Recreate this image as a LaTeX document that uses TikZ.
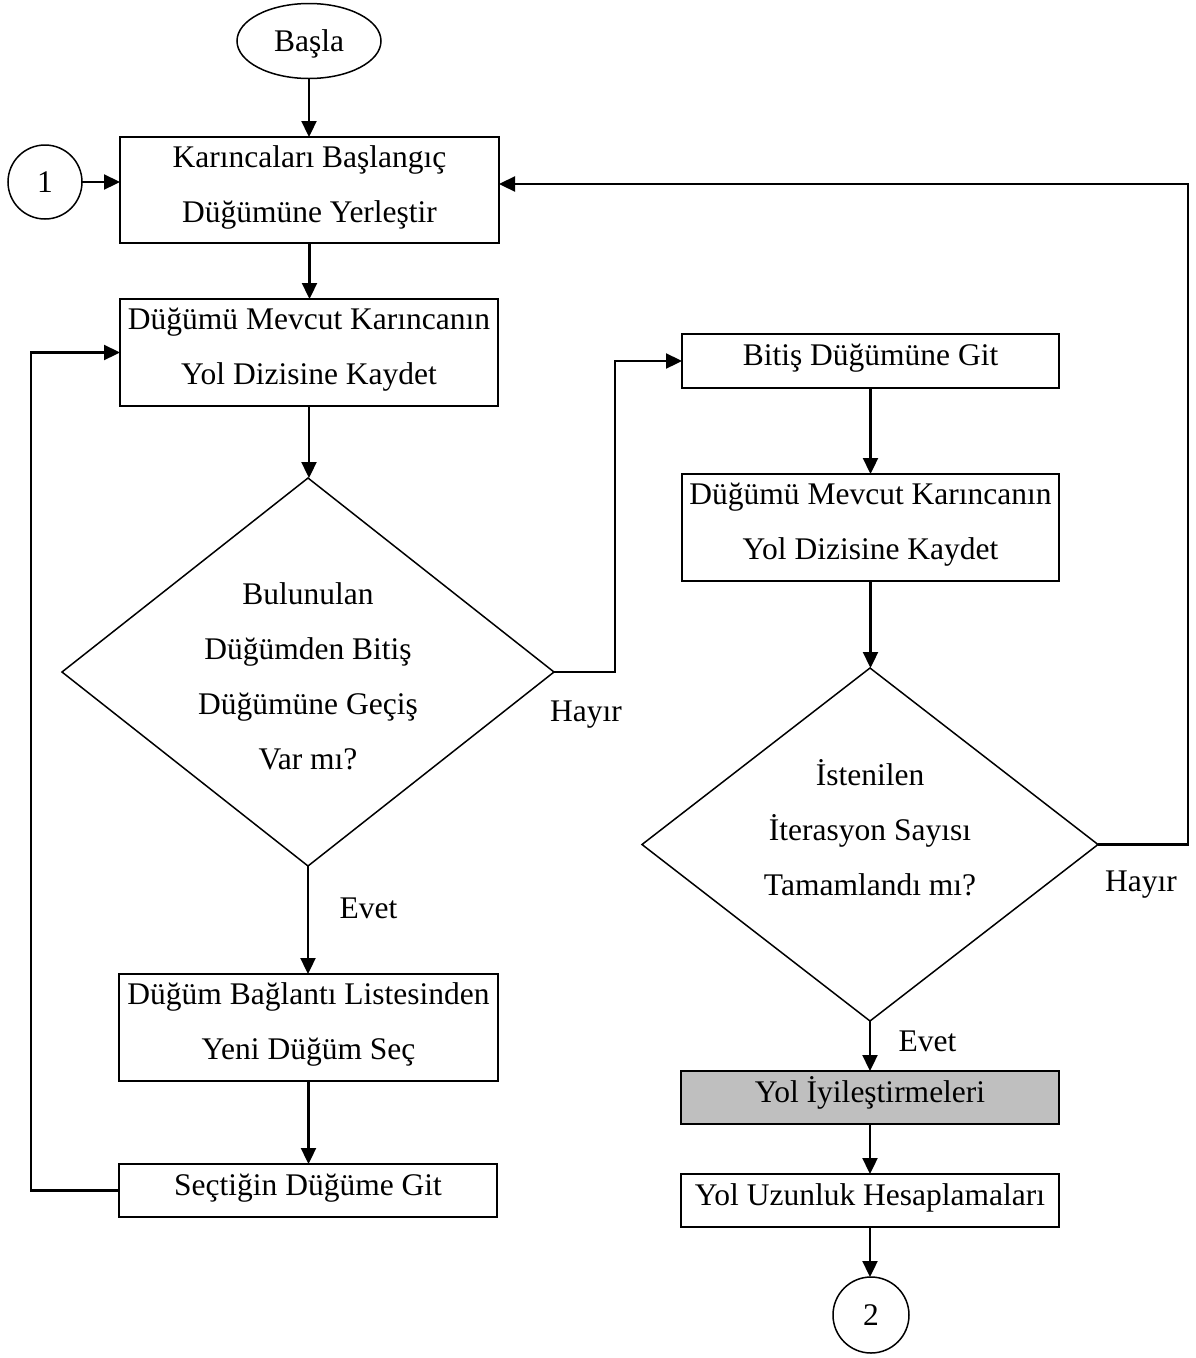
\documentclass[tikz,border=0pt]{standalone}
\usepackage{fontspec}
\setmainfont{Liberation Serif}
\usetikzlibrary{shapes.geometric,arrows.meta,calc}
\definecolor{boxgray}{RGB}{191,191,191}
\newcommand{\sa}{\rule[-19pt]{0pt}{47pt}}
\begin{document}
\begin{tikzpicture}[x=1pt,y=-1pt,
  txt/.style={font=\fontsize{31.5}{55}\selectfont, inner sep=0pt, outer sep=0pt},
  procbox/.style={txt, draw, line width=1.8pt, rectangle, align=center},
  decis/.style={draw, line width=1.5pt, diamond, inner sep=0pt, outer sep=0pt},
  term/.style={txt, draw, line width=1.5pt, ellipse, text height=21pt, text depth=0pt},
  conn/.style={txt, draw, line width=1.5pt, circle, text height=21pt, text depth=0pt},
  lbl/.style={txt, anchor=base},
  arr/.style={line width=2.3pt, -{Triangle[length=16pt,width=15pt]}},
  ln/.style={line width=2.3pt}]
\useasboundingbox (0,0) rectangle (1195,1358);

% left column
\node[term, minimum width=144pt, minimum height=75pt] (start) at (309,41) {Başla};
\node[procbox, minimum width=379pt, minimum height=106pt] (b1) at (309.5,190)
  {\sa Karıncaları Başlangıç\\ \sa Düğümüne Yerleştir};
\node[conn, minimum size=74pt] (c1) at (45,182) {1};
\node[procbox, minimum width=378pt, minimum height=107pt] (b2) at (309,352.5)
  {\sa Düğümü Mevcut Karıncanın\\ \sa Yol Dizisine Kaydet};
\node[decis, minimum width=492pt, minimum height=388pt] (d1) at (308,672) {};
\node[txt, align=center] (d1t) at (308,682.5)
  {\sa Bulunulan\\ Düğümden Bitiş\\ Düğümüne Geçiş\\ \sa Var mı?};
\node[procbox, minimum width=379pt, minimum height=107pt] (b3) at (308.5,1027.5)
  {\sa Düğüm Bağlantı Listesinden\\ \sa Yeni Düğüm Seç};
\node[procbox, minimum width=378pt, minimum height=53pt, text height=28pt, text depth=19pt] (b4) at (308,1190.5)
  {Seçtiğin Düğüme Git};

% right column
\node[procbox, minimum width=377pt, minimum height=54pt, text height=28pt, text depth=19pt] (r1) at (870.5,361)
  {Bitiş Düğümüne Git};
\node[procbox, minimum width=377pt, minimum height=107pt] (r2) at (870.5,527.5)
  {\sa Düğümü Mevcut Karıncanın\\ \sa Yol Dizisine Kaydet};
\node[decis, minimum width=456pt, minimum height=353pt] (d2) at (870,844.5) {};
\node[txt, align=center] (d2t) at (870,836)
  {\sa İstenilen\\ İterasyon Sayısı\\ \sa Tamamlandı mı?};
\node[procbox, fill=boxgray, minimum width=378pt, minimum height=53pt, text height=28pt, text depth=19pt] (g) at (870,1097.5)
  {Yol İyileştirmeleri};
\node[procbox, minimum width=378pt, minimum height=53pt, text height=28pt, text depth=19pt] (r3) at (870,1200.5)
  {Yol Uzunluk Hesaplamaları};
\node[conn, minimum size=76pt] (c2) at (871,1315) {2};

% bend points
\coordinate (k1) at (615,361);
\coordinate (k2) at (1188,184);
\coordinate (k3) at (31,1187);

% connectors
\draw[arr] (start.south) -- (start.south |- b1.north);
\draw[arr] (c1.east) -- (c1.east -| b1.west);
\draw[arr] (b1.south) -- (b1.south |- b2.north);
\draw[arr] (b2.south) -- (b2.south |- d1.north);
\draw[arr] (d1.east) -- (d1.east -| k1) |- (r1.west);
\draw[arr] (d1.south) -- (d1.south |- b3.north);
\draw[arr] (b3.south) -- (b3.south |- b4.north);
\draw[arr] (b4.west) -- (b4.west -| k3) |- (b2.west);
\draw[arr] (r1.south) -- (r1.south |- r2.north);
\draw[arr] (r2.south) -- (r2.south |- d2.north);
\draw[arr] (d2.east) -| (k2) -- (k2 -| b1.east);
\draw[arr] (d2.south) -- (d2.south |- g.north);
\draw[arr] (g.south) -- (g.south |- r3.north);
\draw[arr] (r3.south) -- (r3.south |- c2.north);

% labels
\node[lbl] (hl) at (586,721) {Hayır};
\node[lbl] (hr) at (1141,891) {Hayır};
\node[lbl] (el) at (368.5,918) {Evet};
\node[lbl] (er) at (927.5,1051) {Evet};
\end{tikzpicture}
\end{document}
